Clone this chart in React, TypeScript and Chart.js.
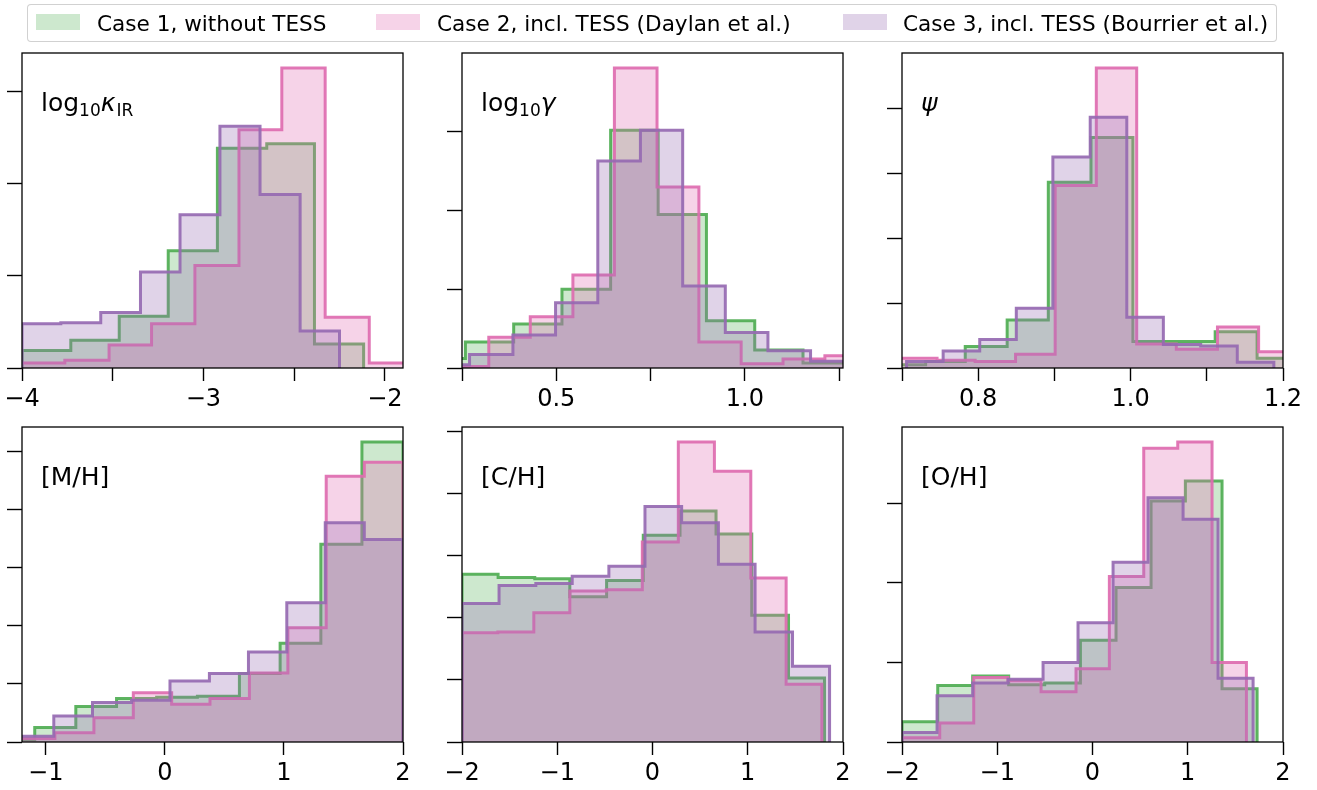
import React, { useEffect, useRef } from "react";
import { Chart, registerables } from "chart.js";

Chart.register(...registerables);

// ---------- series meta ----------
const seriesNames = [
  "Case 1, without TESS",
  "Case 2, incl. TESS (Daylan et al.)",
  "Case 3, incl. TESS (Bourrier et al.)",
];
const lineColors = ["rgba(77,172,80,0.9)", "rgba(222,108,176,0.92)", "rgba(150,106,178,0.92)"];
const fillColors = ["rgba(77,172,80,0.28)", "rgba(224,110,180,0.3)", "rgba(152,108,178,0.3)"];
const legendColors = ["rgba(77,172,80,0.28)", "rgba(224,110,180,0.3)", "rgba(152,108,178,0.3)"];

// ---------- panel 1: log10 kappa_IR ----------
const kappaEdgesC1 = [-4.0, -3.731, -3.464, -3.194, -2.923, -2.651, -2.388, -2.117];
const kappaCountsC1 = [0.19, 0.30, 0.56, 1.27, 2.38, 2.43, 0.26];
const kappaEdgesC2 = [-4.004, -3.764, -3.52, -3.286, -3.047, -2.804, -2.568, -2.329, -2.086, -1.85];
const kappaCountsC2 = [0.054, 0.083, 0.25, 0.48, 1.11, 2.58, 3.25, 0.55, 0.054];
const kappaEdgesC3 = [-4.0, -3.786, -3.566, -3.347, -3.129, -2.909, -2.688, -2.467, -2.25];
const kappaCountsC3 = [0.48, 0.49, 0.6, 1.04, 1.66, 2.62, 1.88, 0.4];
const kappaXTicks = [-4, -3.5, -3, -2.5, -2];
const kappaXLabels = ["\u22124", "", "\u22123", "", "\u22122"];
const kappaYTicks = [0, 1, 2, 3];

// ---------- panel 2: log10 gamma ----------
const gammaEdgesC1 = [0.131, 0.259, 0.387, 0.515, 0.644, 0.77, 0.898, 1.026, 1.154, 1.282];
const gammaCountsC1 = [0.12, 0.33, 0.56, 1.0, 3.02, 1.95, 0.6, 0.23, 0.064];
const gammaEdgesC2 = [0.21, 0.321, 0.431, 0.544, 0.654, 0.767, 0.878, 0.99, 1.101, 1.212, 1.323];
const gammaCountsC2 = [0.02, 0.39, 0.65, 1.18, 3.81, 2.3, 0.33, 0.055, 0.114, 0.157];
const gammaEdgesC3 = [0.157, 0.27, 0.385, 0.498, 0.61, 0.723, 0.835, 0.948, 1.061, 1.174, 1.287];
const gammaCountsC3 = [0.04, 0.17, 0.42, 0.83, 2.63, 3.02, 1.04, 0.45, 0.22, 0.085];
const gammaXTicks = [0.25, 0.5, 0.75, 1.0, 1.25];
const gammaXLabels = ["", "0.5", "", "1.0", ""];
const gammaYTicks = [0, 1, 2, 3];

// ---------- panel 3: psi ----------
const psiEdgesC1 = [0.676, 0.731, 0.783, 0.838, 0.892, 0.948, 1.003, 1.059, 1.111, 1.166, 1.221];
const psiCountsC1 = [0.05, 0.1, 0.33, 0.74, 2.86, 3.55, 0.41, 0.41, 0.56, 0.15];
const psiEdgesC2 = [0.693, 0.746, 0.796, 0.849, 0.901, 0.955, 1.008, 1.06, 1.114, 1.168, 1.222];
const psiCountsC2 = [0.15, 0.12, 0.1, 0.21, 2.81, 4.62, 0.37, 0.29, 0.63, 0.25];
const psiEdgesC3 = [0.706, 0.754, 0.802, 0.85, 0.898, 0.947, 0.995, 1.043, 1.092, 1.14, 1.188];
const psiCountsC3 = [0.1, 0.26, 0.44, 0.92, 3.25, 3.86, 0.78, 0.36, 0.34, 0.09];
const psiXTicks = [0.7, 0.8, 0.9, 1.0, 1.1, 1.2];
const psiXLabels = ["", "0.8", "", "1.0", "", "1.2"];
const psiYTicks = [0, 1, 2, 3, 4];

// ---------- panel 4: [M/H] ----------
const mhEdgesC1 = [-1.436, -1.093, -0.748, -0.406, -0.069, 0.273, 0.626, 0.968, 1.31, 1.655, 2.0];
const mhCountsC1 = [0.04, 0.25, 0.61, 0.75, 0.77, 0.79, 1.18, 1.7, 3.41, 5.17];
const mhEdgesC2 = [-1.247, -0.924, -0.596, -0.265, 0.057, 0.379, 0.71, 1.033, 1.355, 1.675, 2.0];
const mhCountsC2 = [0.06, 0.16, 0.42, 0.85, 0.65, 0.75, 1.19, 1.97, 4.58, 4.82];
const mhEdgesC3 = [-1.258, -0.933, -0.608, -0.28, 0.043, 0.374, 0.702, 1.024, 1.347, 1.675, 2.0];
const mhCountsC3 = [0.1, 0.45, 0.68, 0.72, 1.05, 1.18, 1.55, 2.4, 3.78, 3.49];
const mhXTicks = [-1, 0, 1, 2];
const mhXLabels = ["\u22121", "0", "1", "2"];
const mhYTicks = [0, 1, 2, 3, 4, 5];

// ---------- panel 5: [C/H] ----------
const chEdgesC1 = [-2.0, -1.621, -1.236, -0.868, -0.482, -0.097, 0.289, 0.667, 1.042, 1.428, 1.806];
const chCountsC1 = [2.7, 2.65, 2.63, 2.34, 2.6, 3.33, 3.72, 3.35, 2.04, 1.03];
const chEdgesC2 = [-2.0, -1.624, -1.246, -0.868, -0.486, -0.107, 0.271, 0.65, 1.032, 1.403, 1.778];
const chCountsC2 = [1.76, 1.77, 2.08, 2.43, 2.45, 3.22, 4.83, 4.36, 2.64, 0.93];
const chEdgesC3 = [-2.0, -1.611, -1.225, -0.843, -0.458, -0.079, 0.306, 0.692, 1.077, 1.47, 1.859];
const chCountsC3 = [2.23, 2.52, 2.55, 2.67, 2.83, 3.79, 3.53, 2.86, 1.77, 1.22];
const chXTicks = [-2, -1, 0, 1, 2];
const chXLabels = ["\u22122", "\u22121", "0", "1", "2"];
const chYTicks = [0, 1, 2, 3, 4, 5];

// ---------- panel 6: [O/H] ----------
const ohEdgesC1 = [-2.0, -1.625, -1.258, -0.88, -0.502, -0.127, 0.247, 0.615, 0.975, 1.36, 1.728];
const ohCountsC1 = [0.255, 0.71, 0.83, 0.72, 0.74, 1.28, 1.94, 3.03, 3.28, 0.67];
const ohEdgesC2 = [-2.0, -1.604, -1.247, -0.887, -0.54, -0.173, 0.177, 0.538, 0.895, 1.255, 1.616];
const ohCountsC2 = [0.054, 0.24, 0.81, 0.77, 0.63, 0.92, 2.08, 3.69, 3.77, 1.0];
const ohEdgesC3 = [-2.0, -1.632, -1.258, -0.887, -0.519, -0.152, 0.216, 0.583, 0.951, 1.318, 1.686];
const ohCountsC3 = [0.12, 0.58, 0.74, 0.79, 1.0, 1.5, 2.26, 3.07, 2.8, 0.8];
const ohXTicks = [-2, -1, 0, 1, 2];
const ohXLabels = ["\u22122", "\u22121", "0", "1", "2"];
const ohYTicks = [0, 1, 2, 3];

type Part = { t: string; sub?: boolean; it?: boolean };

const panels = [
  {
    label: [{ t: "log" }, { t: "10", sub: true }, { t: "\u03BA", it: true }, { t: "IR", sub: true }] as Part[],
    edges: [kappaEdgesC1, kappaEdgesC2, kappaEdgesC3],
    counts: [kappaCountsC1, kappaCountsC2, kappaCountsC3],
    xMin: -4, xMax: -1.9, xTicks: kappaXTicks, xLabels: kappaXLabels, yTicks: kappaYTicks,
  },
  {
    label: [{ t: "log" }, { t: "10", sub: true }, { t: "\u03B3", it: true }] as Part[],
    edges: [gammaEdgesC1, gammaEdgesC2, gammaEdgesC3],
    counts: [gammaCountsC1, gammaCountsC2, gammaCountsC3],
    xMin: 0.25, xMax: 1.26, xTicks: gammaXTicks, xLabels: gammaXLabels, yTicks: gammaYTicks,
  },
  {
    label: [{ t: "\u03C8", it: true }] as Part[],
    edges: [psiEdgesC1, psiEdgesC2, psiEdgesC3],
    counts: [psiCountsC1, psiCountsC2, psiCountsC3],
    xMin: 0.7, xMax: 1.2, xTicks: psiXTicks, xLabels: psiXLabels, yTicks: psiYTicks,
  },
  {
    label: [{ t: "[M/H]" }] as Part[],
    edges: [mhEdgesC1, mhEdgesC2, mhEdgesC3],
    counts: [mhCountsC1, mhCountsC2, mhCountsC3],
    xMin: -1.2, xMax: 2, xTicks: mhXTicks, xLabels: mhXLabels, yTicks: mhYTicks,
  },
  {
    label: [{ t: "[C/H]" }] as Part[],
    edges: [chEdgesC1, chEdgesC2, chEdgesC3],
    counts: [chCountsC1, chCountsC2, chCountsC3],
    xMin: -2, xMax: 2, xTicks: chXTicks, xLabels: chXLabels, yTicks: chYTicks,
  },
  {
    label: [{ t: "[O/H]" }] as Part[],
    edges: [ohEdgesC1, ohEdgesC2, ohEdgesC3],
    counts: [ohCountsC1, ohCountsC2, ohCountsC3],
    xMin: -2, xMax: 2, xTicks: ohXTicks, xLabels: ohXLabels, yTicks: ohYTicks,
  },
];

// ---------- layout ----------
const FONT = '"DejaVu Sans", Verdana, sans-serif';
const COL_LEFT = [22, 462, 902];
const ROW_TOP = [53, 427];
const PLOT_W = 381;
const PLOT_H = 315;
const PADL = 22;
const PADT = 12;
const PADR = 30;
const PADB = 50;

function histPoints(edges: number[], counts: number[]) {
  const pts: { x: number; y: number }[] = [{ x: edges[0], y: 0 }];
  counts.forEach((c, i) => pts.push({ x: edges[i], y: c }));
  pts.push({ x: edges[edges.length - 1], y: 0 });
  return pts;
}

const framePlugin = {
  id: "frame",
  afterDatasetsDraw(chart: any, _args: any, opts: any) {
    const { ctx, chartArea: a } = chart;
    ctx.save();
    ctx.strokeStyle = "#000";
    ctx.lineWidth = 1.3;
    ctx.strokeRect(a.left, a.top, a.right - a.left, a.bottom - a.top);
    const parts: Part[] = opts.parts || [];
    let x = a.left + 19;
    const y = a.top + 58;
    ctx.fillStyle = "#000";
    ctx.textBaseline = "alphabetic";
    ctx.textAlign = "left";
    for (const p of parts) {
      const size = p.sub ? 17 : 25;
      ctx.font = `${p.it ? "italic " : ""}${size}px ${FONT}`;
      ctx.fillText(p.t, x, p.sub ? y + 5 : y);
      x += ctx.measureText(p.t).width + (p.it ? 1 : 0);
    }
    ctx.restore();
  },
};

function Panel({ idx }: { idx: number }) {
  const ref = useRef<HTMLCanvasElement | null>(null);
  const cfg = panels[idx];
  const col = idx % 3;
  const row = Math.floor(idx / 3);
  const W = PLOT_W + PADL + PADR;
  const H = PLOT_H + PADT + PADB;
  const left = COL_LEFT[col] - PADL;
  const top = ROW_TOP[row] - PADT;

  useEffect(() => {
    if (!ref.current) return;
    const maxVal = Math.max(...cfg.counts.map((c) => Math.max(...c)));
    const yMax = maxVal * 1.05;
    const datasets = cfg.counts.map((c, i) => ({
      label: seriesNames[i],
      data: histPoints(cfg.edges[i], c),
      stepped: true,
      borderColor: lineColors[i],
      backgroundColor: fillColors[i],
      borderWidth: 3,
      pointRadius: 0,
      pointHoverRadius: 0,
      fill: "origin",
      tension: 0,
      order: 3 - i,
      clip: 0,
    }));
    const chart = new Chart(ref.current, {
      type: "line",
      data: { datasets },
      plugins: [framePlugin],
      options: {
        animation: false,
        responsive: false,
        devicePixelRatio: 1,
        events: [],
        layout: { padding: { left: 0, top: PADT, right: PADR, bottom: 0 } },
        plugins: {
          legend: { display: false },
          tooltip: { enabled: false },
          frame: { parts: cfg.label },
        } as any,
        scales: {
          x: {
            type: "linear",
            min: cfg.xMin,
            max: cfg.xMax,
            afterBuildTicks: (scale: any) => {
              scale.ticks = cfg.xTicks.map((v) => ({ value: v }));
            },
            afterFit: (scale: any) => {
              scale.height = PADB;
              scale.paddingLeft = 0;
              scale.paddingRight = 0;
            },
            ticks: {
              autoSkip: false,
              maxRotation: 0,
              padding: 4,
              color: "#000",
              font: { family: FONT, size: 24 },
              callback: (_v: any, i: number) => cfg.xLabels[i],
            },
            grid: {
              display: true,
              drawOnChartArea: false,
              drawTicks: true,
              tickLength: 13,
              tickColor: "#000",
              tickWidth: 1.4,
            },
            border: { display: false },
          },
          y: {
            type: "linear",
            min: 0,
            max: yMax,
            afterBuildTicks: (scale: any) => {
              scale.ticks = cfg.yTicks.filter((v) => v <= yMax).map((v) => ({ value: v }));
            },
            afterFit: (scale: any) => {
              scale.width = PADL;
              scale.paddingTop = 0;
              scale.paddingBottom = 0;
            },
            ticks: { display: false },
            grid: {
              display: true,
              drawOnChartArea: false,
              drawTicks: true,
              tickLength: 15,
              tickColor: "#000",
              tickWidth: 1.4,
            },
            border: { display: false },
          },
        },
      } as any,
    });
    return () => chart.destroy();
  }, [idx]);

  return (
    <canvas
      ref={ref}
      width={W}
      height={H}
      style={{ position: "absolute", left, top, width: W, height: H }}
    />
  );
}

const legendPatchLeft = [36, 376, 843];
const legendTextLeft = [97, 437, 903];

function Legend() {
  return (
    <div
      style={{
        position: "absolute",
        left: 27,
        top: 4,
        width: 1250,
        height: 38,
        boxSizing: "border-box",
        border: "1px solid rgba(204,204,204,0.9)",
        borderRadius: 4,
        background: "rgba(255,255,255,0.8)",
      }}
    >
      {seriesNames.map((name, i) => (
        <React.Fragment key={name}>
          <div
            style={{
              position: "absolute",
              left: legendPatchLeft[i] - 28,
              top: 9,
              width: 44,
              height: 16,
              background: legendColors[i],
            }}
          />
          <span
            style={{
              position: "absolute",
              left: legendTextLeft[i] - 28,
              top: 8,
              fontFamily: FONT,
              fontSize: 21.6,
              lineHeight: "21px",
              color: "#000",
              whiteSpace: "nowrap",
            }}
          >
            {name}
          </span>
        </React.Fragment>
      ))}
    </div>
  );
}

export default function App() {
  return (
    <div
      style={{
        position: "fixed",
        left: 0,
        top: 0,
        width: 1317,
        height: 790,
        background: "#fff",
        overflow: "hidden",
      }}
    >
      {panels.map((_, i) => (
        <Panel key={i} idx={i} />
      ))}
      <Legend />
    </div>
  );
}
